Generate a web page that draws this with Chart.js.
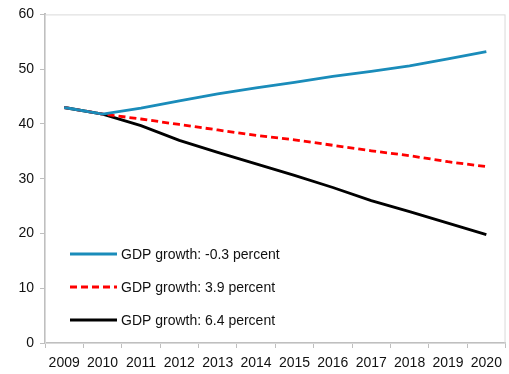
<!DOCTYPE html>
<html>
<head>
<meta charset="utf-8">
<script src="https://cdn.jsdelivr.net/npm/chart.js@4.4.1/dist/chart.umd.min.js"></script>
<style>
  html, body { margin: 0; padding: 0; background: #fff; }
  #wrap { width: 509px; height: 374px; position: relative; }
</style>
</head>
<body>
<div id="wrap"><canvas id="gdpChart"></canvas></div>
<script>
const years = ['2009', '2010', '2011', '2012', '2013', '2014', '2015', '2016', '2017', '2018', '2019', '2020'];
const seriesNames = ['GDP growth: -0.3 percent', 'GDP growth: 3.9 percent', 'GDP growth: 6.4 percent'];
const growthLow = [43.0, 41.8, 42.9, 44.2, 45.5, 46.6, 47.6, 48.7, 49.6, 50.6, 51.9, 53.2];
const growthMid = [43.0, 41.8, 40.9, 39.9, 38.9, 37.9, 37.1, 36.1, 35.1, 34.2, 33.1, 32.2];
const growthHigh = [43.0, 41.8, 39.7, 37.0, 34.8, 32.7, 30.6, 28.4, 26.0, 24.0, 21.9, 19.8];
const yTicks = [0, 10, 20, 30, 40, 50, 60];

const fontFamily = "'Liberation Sans', 'DejaVu Sans', sans-serif";

// light grey frame round the plot area
const framePlugin = {
    id: 'frame',
    beforeDatasetsDraw(chart) {
        const a = chart.chartArea;
        const ctx = chart.ctx;
        ctx.save();
        ctx.strokeStyle = '#d9d9d9';
        ctx.lineWidth = 1;
        ctx.strokeRect(a.left + 0.5, a.top + 0.5, a.right - a.left - 1, a.bottom - a.top);
        ctx.restore();
    }
};

// legend drawn inside the plot, lower left
const insideLegend = {
    id: 'insideLegend',
    afterDatasetsDraw(chart) {
        const ctx = chart.ctx;
        const x0 = 70, x1 = 117, startY = 254, gap = 33;
        ctx.save();
        ctx.font = '14px ' + fontFamily;
        ctx.textBaseline = 'middle';
        chart.data.datasets.forEach((ds, i) => {
            const y = startY + i * gap;
            ctx.beginPath();
            ctx.strokeStyle = ds.borderColor;
            ctx.lineWidth = ds.borderWidth;
            ctx.setLineDash(ds.borderDash || []);
            ctx.moveTo(x0, y);
            ctx.lineTo(x1, y);
            ctx.stroke();
            ctx.setLineDash([]);
            ctx.fillStyle = '#111';
            ctx.fillText(ds.label, x1 + 4, y + 1);
        });
        ctx.restore();
    }
};

const ctx = document.getElementById('gdpChart').getContext('2d');
new Chart(ctx, {
    type: 'line',
    data: {
        labels: years,
        datasets: [{
            label: seriesNames[0],
            data: growthLow,
            borderColor: '#1a8cba',
            borderWidth: 2.8,
            pointRadius: 0,
            tension: 0
        }, {
            label: seriesNames[1],
            data: growthMid,
            borderColor: '#ff0000',
            borderWidth: 2.8,
            borderDash: [7, 4],
            pointRadius: 0,
            tension: 0
        }, {
            label: seriesNames[2],
            data: growthHigh,
            borderColor: '#000000',
            borderWidth: 2.8,
            pointRadius: 0,
            tension: 0
        }]
    },
    options: {
        responsive: true,
        maintainAspectRatio: false,
        animation: false,
        layout: { padding: { top: 10, right: 2, left: 0, bottom: 0 } },
        scales: {
            x: {
                offset: true,
                grid: {
                    offset: true,
                    drawOnChartArea: false,
                    drawTicks: true,
                    tickLength: 5,
                    color: '#bfbfbf'
                },
                border: { color: '#bfbfbf', width: 2 },
                ticks: {
                    font: { family: fontFamily, size: 14 },
                    color: '#111',
                    maxRotation: 0,
                    autoSkip: false,
                    padding: 7
                },
                afterFit(scale) { scale.height = 31; }
            },
            y: {
                min: 0,
                max: 60,
                afterBuildTicks(scale) {
                    scale.ticks = yTicks.map(v => ({ value: v }));
                },
                grid: {
                    drawOnChartArea: false,
                    drawTicks: true,
                    tickLength: 5,
                    color: '#bfbfbf'
                },
                border: { color: '#bfbfbf', width: 2 },
                ticks: {
                    font: { family: fontFamily, size: 14 },
                    color: '#111',
                    padding: 6
                },
                afterFit(scale) { scale.width = 45; }
            }
        },
        plugins: {
            legend: { display: false },
            tooltip: { enabled: false }
        }
    },
    plugins: [framePlugin, insideLegend]
});
</script>
</body>
</html>
